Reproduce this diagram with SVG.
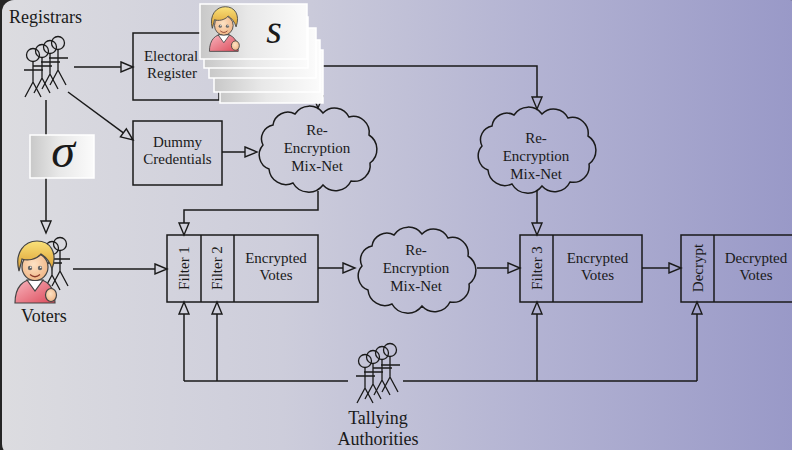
<svg xmlns="http://www.w3.org/2000/svg" xmlns:xlink="http://www.w3.org/1999/xlink" width="792" height="450" viewBox="0 0 792 450">
  <defs>
    <linearGradient id="bg" x1="0" y1="0" x2="1" y2="0">
      <stop offset="0" stop-color="#dcdce0"/>
      <stop offset="0.35" stop-color="#cdcddb"/>
      <stop offset="0.65" stop-color="#b4b4d3"/>
      <stop offset="1" stop-color="#9898c7"/>
    </linearGradient>
    <linearGradient id="card" x1="0" y1="0" x2="1" y2="0">
      <stop offset="0" stop-color="#c8c8c8"/>
      <stop offset="0.45" stop-color="#e8e8e8"/>
      <stop offset="1" stop-color="#fbfbfb"/>
    </linearGradient>
    <linearGradient id="hair" x1="0" y1="0" x2="0" y2="1">
      <stop offset="0" stop-color="#fae27a"/>
      <stop offset="1" stop-color="#d99a2e"/>
    </linearGradient>
    <linearGradient id="shirt" x1="0" y1="0" x2="1" y2="1">
      <stop offset="0" stop-color="#f9b8c0"/>
      <stop offset="1" stop-color="#dc4a5a"/>
    </linearGradient>
    <radialGradient id="skin" cx="0.45" cy="0.4" r="0.7">
      <stop offset="0" stop-color="#fde2c4"/>
      <stop offset="1" stop-color="#efb07e"/>
    </radialGradient>
    <marker id="tri" markerUnits="userSpaceOnUse" markerWidth="14" markerHeight="12" refX="0" refY="5" orient="auto" overflow="visible">
      <path d="M0,0 L12,5 L0,10 Z" fill="none" stroke="#1a1a1a" stroke-width="1.4"/>
    </marker>
    <!-- stick figure, head centre at origin -->
    <g id="stick" fill="none" stroke="#1a1a1a" stroke-width="1.3">
      <circle cx="0" cy="0" r="6.5"/>
      <path d="M0,6.5 V27 M-9,15 H10 M0,27 L-8,42 M0,27 L8,42"/>
    </g>
    <!-- cartoon person icon, 44 x 63 -->
    <g id="person" stroke="#444" stroke-width="1.2">
      <path d="M2,63 C2,47 10,39 22,39 C34,39 42,47 42,63 Z" fill="url(#shirt)"/>
      <path d="M14,40 L22,51 L30,40 Z" fill="#ffffff"/>
      <ellipse cx="22" cy="27" rx="13" ry="13.5" fill="url(#skin)"/>
      <path d="M6,31 C1,12 12,1 24,1 C37,1 45,12 39,29 C37,22 33,17 28,14 C23,20 14,21 9,19 C8,24 7,27 6,31 Z" fill="url(#hair)"/>
      <circle cx="17" cy="28" r="2.2" fill="#666" stroke="none"/>
      <circle cx="27" cy="28" r="2.2" fill="#666" stroke="none"/>
      <circle cx="17.7" cy="27.3" r="0.8" fill="#fff" stroke="none"/>
      <circle cx="27.7" cy="27.3" r="0.8" fill="#fff" stroke="none"/>
      <path d="M17,34.5 Q22,39 27,34.5" fill="none" stroke="#8a3a2a"/>
      <ellipse cx="38" cy="55" rx="5.5" ry="6.5" fill="url(#skin)"/>
    </g>
    <!-- cloud outline centred at origin -->
    <path id="cloud" d="M-44,-24 A15,15 0 0 1 -22,-35 A17,17 0 0 1 6,-36 A16,16 0 0 1 32,-32 A16,16 0 0 1 52,-14 A17,17 0 0 1 53,14 A16,16 0 0 1 34,32 A17,17 0 0 1 6,36 A18,18 0 0 1 -24,34 A17,17 0 0 1 -48,20 A15,15 0 0 1 -54,-4 A14,14 0 0 1 -44,-24 Z"/>
  </defs>
  <style>
    .box { fill: none; stroke: #1a1a1a; stroke-width: 1.5; }
    .cl { fill: none; stroke: #1a1a1a; stroke-width: 1.5; }
    .conn { fill: none; stroke: #1a1a1a; stroke-width: 1.5; }
    .arr { marker-end: url(#tri); }
    text { font-family: "Liberation Serif", "Times New Roman", serif; fill: #1a1a1a; }
    .lbl { font-size: 15px; text-anchor: middle; }
    .big { font-size: 18px; }
    .card { fill: url(#card); stroke: #ffffff; stroke-width: 1.5; }
  </style>

  <!-- frame and background -->
  <rect x="0" y="0" width="792" height="450" fill="#252525"/>
  <rect x="2" y="0" width="800" height="456" rx="12" fill="url(#bg)"/>

  <!-- connectors -->
  <g id="connectors">
    <path class="conn arr" d="M74,67 H121"/>
    <path class="conn arr" d="M68,92 L123.4,132.9"/>
    <path class="conn arr" d="M46,100 V221"/>
    <path class="conn arr" d="M73,269 H155"/>
    <path class="conn arr" d="M222,152 H245"/>
    <path class="conn arr" d="M318,85 V96"/>
    <path class="conn arr" d="M323,66 H537 V97"/>
    <path class="conn arr" d="M318,191 V210 H184 V223"/>
    <path class="conn arr" d="M318,268 H343"/>
    <path class="conn arr" d="M477,268 H508"/>
    <path class="conn arr" d="M537,190 V223"/>
    <path class="conn arr" d="M642,268 H669"/>
    <path class="conn" d="M184,381 H348 M403,381 H697"/>
    <path class="conn arr" d="M184,381 V314"/>
    <path class="conn arr" d="M217,381 V314"/>
    <path class="conn arr" d="M537,381 V314"/>
    <path class="conn arr" d="M697,381 V314"/>
  </g>

  <!-- registrars -->
  <g id="registrars">
    <text class="big" x="9" y="23">Registrars</text>
    <use xlink:href="#stick" x="58" y="43"/>
    <use xlink:href="#stick" x="50" y="47"/>
    <use xlink:href="#stick" x="42" y="51"/>
    <use xlink:href="#stick" x="33" y="55"/>
  </g>

  <!-- electoral register -->
  <g id="electoral-register">
    <rect class="box" x="133" y="33" width="86" height="67"/>
    <text class="lbl" x="171" y="61">Electoral</text>
    <text class="lbl" x="172" y="78">Register</text>
  </g>

  <!-- credential cards -->
  <g id="credentials">
    <rect class="card" x="220" y="50" width="103" height="53"/>
    <rect class="card" x="214" y="40" width="106" height="52"/>
    <rect class="card" x="209" y="28" width="107" height="50"/>
    <rect class="card" x="204" y="17" width="104" height="51"/>
    <rect class="card" x="200" y="4" width="107" height="55"/>
    <use xlink:href="#person" transform="translate(208,6) scale(0.72)"/>
    <text x="274" y="43" font-size="40" font-style="italic" text-anchor="middle">s</text>
  </g>

  <!-- dummy credentials -->
  <g id="dummy-credentials">
    <rect class="box" x="133" y="121" width="89" height="64"/>
    <text class="lbl" x="177.5" y="147">Dummy</text>
    <text class="lbl" x="177.5" y="164">Credentials</text>
  </g>

  <!-- sigma -->
  <g id="sigma">
    <rect class="card" x="30" y="135" width="64" height="43"/>
    <text x="63" y="167" font-size="48" font-style="italic" text-anchor="middle">σ</text>
  </g>

  <!-- voters -->
  <g id="voters">
    <use xlink:href="#stick" x="52" y="248"/>
    <use xlink:href="#stick" x="60" y="244"/>
    <use xlink:href="#person" x="13" y="240"/>
    <text class="big" x="21" y="322">Voters</text>
  </g>

  <!-- mix-net 1 -->
  <g id="mixnet-1">
    <use xlink:href="#cloud" class="cl" transform="translate(317,149)"/>
    <text class="lbl" x="317" y="135">Re-</text>
    <text class="lbl" x="317" y="153">Encryption</text>
    <text class="lbl" x="317" y="171">Mix-Net</text>
  </g>

  <!-- mix-net 2 -->
  <g id="mixnet-2">
    <use xlink:href="#cloud" class="cl" transform="translate(536,150)"/>
    <text class="lbl" x="536" y="143">Re-</text>
    <text class="lbl" x="536" y="161">Encryption</text>
    <text class="lbl" x="536" y="179">Mix-Net</text>
  </g>

  <!-- mix-net 3 -->
  <g id="mixnet-3">
    <use xlink:href="#cloud" class="cl" transform="translate(416,270)"/>
    <text class="lbl" x="416" y="255">Re-</text>
    <text class="lbl" x="416" y="273">Encryption</text>
    <text class="lbl" x="416" y="291">Mix-Net</text>
  </g>

  <!-- filters 1 and 2 with encrypted votes -->
  <g id="filter-12">
    <rect class="box" x="167" y="235" width="151" height="67"/>
    <path class="box" d="M201,235 V302 M234,235 V302"/>
    <text class="lbl" transform="translate(189,268) rotate(-90)">Filter 1</text>
    <text class="lbl" transform="translate(222,268) rotate(-90)">Filter 2</text>
    <text class="lbl" x="276" y="263">Encrypted</text>
    <text class="lbl" x="276" y="280">Votes</text>
  </g>

  <!-- filter 3 with encrypted votes -->
  <g id="filter-3">
    <rect class="box" x="520" y="235" width="122" height="67"/>
    <path class="box" d="M553,235 V302"/>
    <text class="lbl" transform="translate(542,268) rotate(-90)">Filter 3</text>
    <text class="lbl" x="597.5" y="263">Encrypted</text>
    <text class="lbl" x="597.5" y="280">Votes</text>
  </g>

  <!-- decryption -->
  <g id="decrypt">
    <rect class="box" x="681" y="235" width="130" height="67"/>
    <path class="box" d="M714,235 V302"/>
    <text class="lbl" transform="translate(703,268) rotate(-90)">Decrypt</text>
    <text class="lbl" x="756" y="263">Decrypted</text>
    <text class="lbl" x="756" y="280">Votes</text>
  </g>

  <!-- tallying authorities -->
  <g id="tallying-authorities">
    <use xlink:href="#stick" x="390" y="350"/>
    <use xlink:href="#stick" x="382" y="353"/>
    <use xlink:href="#stick" x="373" y="357"/>
    <use xlink:href="#stick" x="365" y="361"/>
    <text class="big" x="378" y="424" text-anchor="middle">Tallying</text>
    <text class="big" x="378" y="445" text-anchor="middle">Authorities</text>
  </g>
</svg>
